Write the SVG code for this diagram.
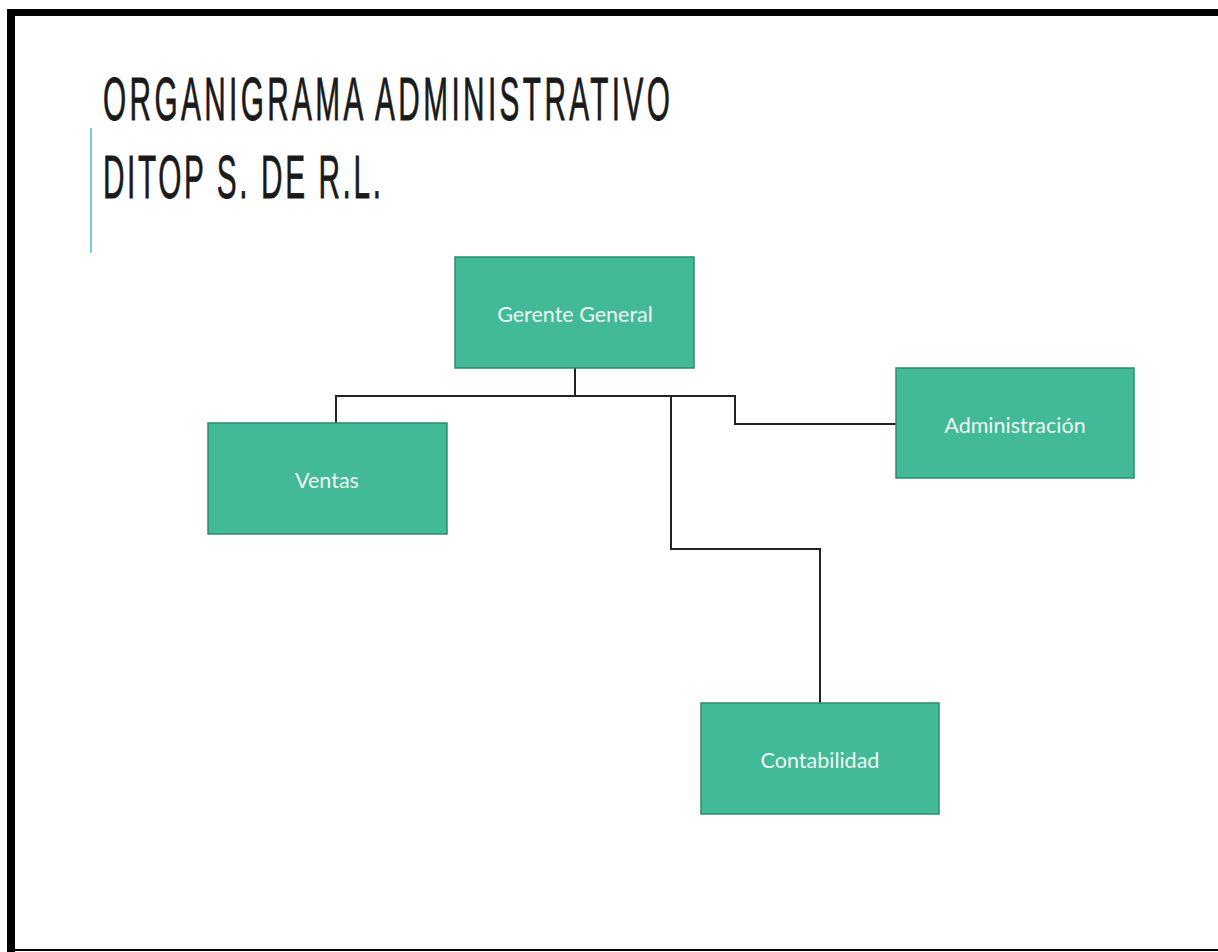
<svg xmlns="http://www.w3.org/2000/svg" width="1218" height="952" viewBox="0 0 1218 952">
<style>
.box{fill:#43ba97;stroke:#2e8c6e;stroke-width:1.5}
.lbl{font-family:"Lato","Noto Sans",sans-serif;font-size:21.5px;fill:#eef8f3;text-anchor:middle;dominant-baseline:central}
.title{font-family:"Liberation Sans",sans-serif;font-size:62px;fill:#1a1a1a;stroke:#1a1a1a;stroke-width:0.8}
.conn{fill:none;stroke:#222;stroke-width:2}
</style>
<rect x="0" y="0" width="1218" height="952" fill="#fff"/>
<rect x="7" y="9" width="1211" height="7" fill="#000"/>
<rect x="7" y="9" width="8" height="943" fill="#000"/>
<rect x="7" y="949" width="1211" height="2" fill="#000"/>
<line x1="91" y1="128" x2="91" y2="253" stroke="#6fcdf0" stroke-width="2"/>
<text class="title" transform="translate(103,120) scale(0.48,1)" x="0" y="0" textLength="1181" lengthAdjust="spacing">ORGANIGRAMA ADMINISTRATIVO</text>
<text class="title" transform="translate(103,198) scale(0.48,1)" x="0" y="0" textLength="579" lengthAdjust="spacing">DITOP S. DE R.L.</text>
<g id="connectors">
<path class="conn" d="M575 368 V396"/>
<path class="conn" d="M336 423 V396 H735 V424 H897"/>
<path class="conn" d="M671 396 V549 H820 V703"/>
</g>
<g id="gerente"><rect class="box" x="455" y="257" width="239" height="111"/><text class="lbl" x="575" y="314">Gerente General</text></g>
<g id="ventas"><rect class="box" x="208" y="423" width="239" height="111"/><text class="lbl" x="327" y="480">Ventas</text></g>
<g id="administracion"><rect class="box" x="896" y="368" width="238" height="110"/><text class="lbl" x="1015" y="425">Administración</text></g>
<g id="contabilidad"><rect class="box" x="701" y="703" width="238" height="111"/><text class="lbl" x="820" y="760">Contabilidad</text></g>
</svg>
